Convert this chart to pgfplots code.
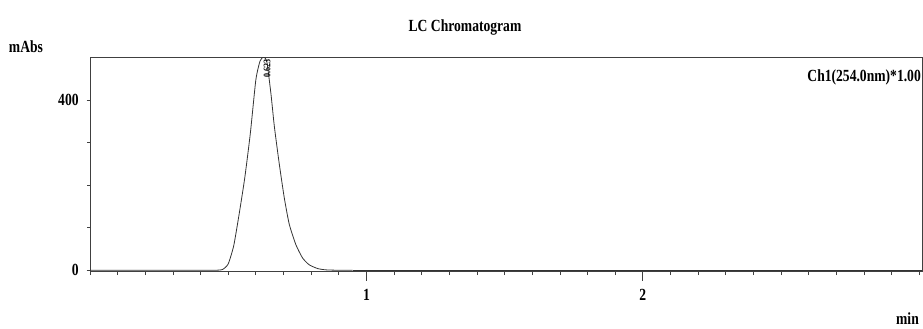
\documentclass[border=0pt]{standalone}
\usepackage{fontspec}
\setmainfont{Liberation Serif}[FakeStretch=0.8]
\usepackage{pgfplots}
\pgfplotsset{compat=1.18}
\begin{document}
\begin{tikzpicture}
\useasboundingbox (0pt,0pt) rectangle (923pt,329pt);
\fontsize{17}{19}\selectfont\bfseries
\begin{axis}[
  at={(90pt,58.7pt)}, anchor=origin,
  scale only axis, width=832pt, height=213.8pt,
  xmin=0, xmax=3.01, ymin=-3, ymax=500,
  axis line style={black!75, line width=0.8pt},
  xtick={0,0.1,...,3.0}, xticklabels={},
  extra x ticks={1,2},
  extra x tick style={major tick length=9pt, xticklabel style={yshift=-3pt}},
  ytick={0,400}, minor ytick={100,200,300},
  xtick pos=bottom, ytick pos=left,
  tick align=outside,
  major tick length=3.5pt, minor tick length=3pt,
  tick style={black!75, line width=0.7pt},
  /pgf/number format/assume math mode=true,
  ticklabel style={font=\fontsize{17}{19}\selectfont\bfseries},
  yticklabel style={xshift=-2pt},
]
\addplot[black!80, line width=0.8pt, smooth, tension=0.35] coordinates {
(0,0) (0.40,0) (0.46,0.3) (0.48,2) (0.50,15) (0.52,58) (0.54,134) (0.56,218)
(0.58,322) (0.60,448) (0.615,492) (0.628,502) (0.640,490) (0.655,413) (0.667,338)
(0.685,249) (0.703,170) (0.721,108) (0.745,60) (0.769,29) (0.793,13) (0.824,4)
(0.854,1) (0.90,0.1) (0.95,0)
};
\addplot[black!80, line width=0.8pt] coordinates {(0.95,0) (3.01,0)};
\node[rotate=90, anchor=east, font=\fontsize{10}{10}\selectfont\bfseries, inner sep=1pt] at (axis cs:0.641,499) {0.623};
\end{axis}
\node at (465pt,302pt) {LC Chromatogram};
\node at (26pt,282pt) {mAbs};
\node[anchor=east, inner sep=0pt] at (921pt,252pt) {Ch1(254.0nm)*1.00};
\node[anchor=south east, inner sep=1pt] at (920pt,3pt) {min};
\end{tikzpicture}
\end{document}
